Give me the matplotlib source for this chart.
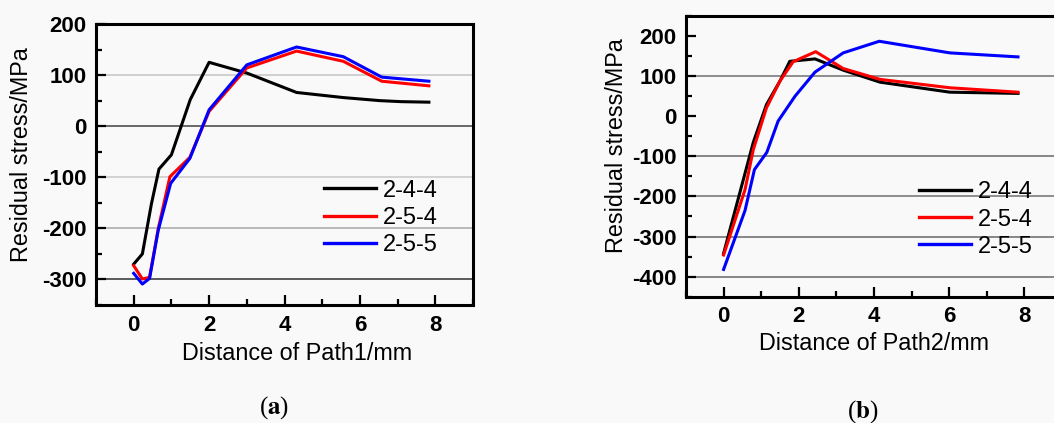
import numpy as np
import matplotlib
matplotlib.use("Agg")
import matplotlib.pyplot as plt
from matplotlib.ticker import MultipleLocator

plt.rcParams['font.family'] = ['Liberation Sans', 'DejaVu Sans']
plt.rcParams['mathtext.fontset'] = 'stix'
plt.rcParams['axes.unicode_minus'] = False

series_names = ['2-4-4', '2-5-4', '2-5-5']
series_colors = ['black', '#ff0000', '#0000ff']

# panel (a): Path1
a_x_244 = [0, 0.23, 0.47, 0.67, 1.0, 1.5, 2.0, 3.0, 4.32, 5.56, 6.53, 7.1, 7.83]
a_y_244 = [-270, -250, -152, -84, -56, 52, 125, 104, 66, 56, 50, 48, 47]
a_x_254 = [0, 0.23, 0.42, 0.65, 0.96, 1.49, 2.0, 3.0, 4.32, 5.56, 6.58, 7.83]
a_y_254 = [-273, -299, -296, -201, -99, -61, 29, 114, 147, 127, 88, 79]
a_x_255 = [0, 0.23, 0.42, 0.65, 0.98, 1.49, 2.0, 3.0, 4.32, 5.56, 6.58, 7.83]
a_y_255 = [-288, -309, -298, -204, -112, -63, 32, 120, 155, 136, 96, 88]

# panel (b): Path2
b_x_244 = [0, 0.79, 1.14, 1.5, 1.76, 2.43, 3.18, 4.16, 6.02, 7.83]
b_y_244 = [-342, -65, 29, 88, 137, 143, 115, 85, 60, 57]
b_x_254 = [0, 0.57, 0.79, 1.14, 1.5, 1.85, 2.45, 3.18, 4.16, 6.02, 7.83]
b_y_254 = [-346, -183, -83, 21, 88, 136, 161, 119, 92, 71, 60]
b_x_255 = [0, 0.57, 0.82, 1.15, 1.45, 1.9, 2.43, 3.18, 4.14, 6.02, 7.83]
b_y_255 = [-382, -235, -133, -90, -12, 50, 110, 158, 187, 158, 148]

W, H = 1054, 423
fig = plt.figure(figsize=(W / 100, H / 100), dpi=100, facecolor='#f9f9f9')


def make_axes(rect, xs, ys, ylim, yticks, grid, xlabel, xlab_pos, ylab_pos, leg_anchor):
    ax = fig.add_axes(rect, facecolor='#f9f9f9')
    for val, col in grid:
        ax.axhline(val, color=col, lw=1.1, zorder=1)
    for x, y, c, n in zip(xs, ys, series_colors, series_names):
        ax.plot(x, y, color=c, lw=2.2, label=n, zorder=3)
    ax.set_xlim(-1, 9)
    ax.set_ylim(*ylim)
    ax.set_xticks([0, 2, 4, 6, 8])
    ax.set_yticks(yticks)
    ax.xaxis.set_minor_locator(MultipleLocator(1))
    ax.yaxis.set_minor_locator(MultipleLocator(50))
    ax.tick_params(which='both', direction='in', width=1.6, top=False, right=False)
    ax.tick_params(which='major', length=7, labelsize=16, pad=7)
    ax.tick_params(which='minor', length=4)
    for lab in ax.get_xticklabels() + ax.get_yticklabels():
        lab.set_fontweight('bold')
    for sp in ax.spines.values():
        sp.set_linewidth(2.2)
    ax.set_xlabel(xlabel, fontsize=16.8, va='center', ha='center')
    ax.set_ylabel('Residual stress/MPa', fontsize=16.8, va='center', ha='center')
    ax.xaxis.set_label_coords(*xlab_pos)
    ax.yaxis.set_label_coords(*ylab_pos)
    leg = ax.legend(loc='center', bbox_to_anchor=leg_anchor, frameon=False,
                    fontsize=17, handlelength=2.2, handletextpad=0.3,
                    labelspacing=0.22, borderpad=0)
    for h in leg.get_lines():
        h.set_linewidth(2.4)
    return ax


axa = make_axes([96 / W, 1 - 305 / H, 377 / W, 281 / H],
                [a_x_244, a_x_254, a_x_255], [a_y_244, a_y_254, a_y_255],
                (-350, 200), [-300, -200, -100, 0, 100, 200],
                [(100, '#c4c4c4'), (0, '#404040'), (-100, '#c8c8c8'),
                 (-200, '#a8a8a8'), (-300, '#303030')],
                'Distance of Path1/mm', (0.532, -0.171), (-0.197, 0.536),
                (0.755, 0.31))

axb = make_axes([686 / W, 1 - 296.7 / H, 376 / W, 280.7 / H],
                [b_x_244, b_x_254, b_x_255], [b_y_244, b_y_254, b_y_255],
                (-450, 250), [-400, -300, -200, -100, 0, 100, 200],
                [(100, '#707070'), (-100, '#686868'), (-200, '#707070'),
                 (-300, '#686868'), (-400, '#686868')],
                'Distance of Path2/mm', (0.5, -0.165), (-0.184, 0.540),
                (0.77, 0.275))

fig.text(274 / W, 1 - 408 / H, r'($\mathbf{a}$)', fontsize=18, ha='center',
         va='center', family='Liberation Serif')
fig.text(863 / W, 1 - 411.7 / H, r'($\mathbf{b}$)', fontsize=18, ha='center',
         va='center', family='Liberation Serif')

fig.savefig('out.png', dpi=100, facecolor=fig.get_facecolor())
